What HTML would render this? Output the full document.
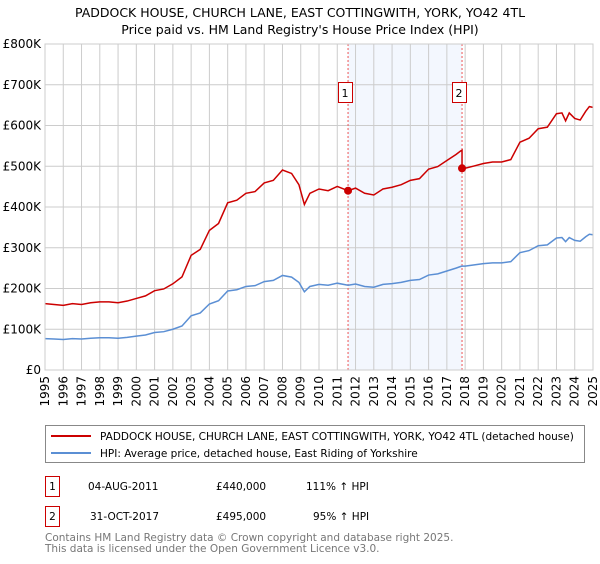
<!DOCTYPE html>
<html><head><meta charset="utf-8"><style>
body{margin:0;background:#fff;font-family:"DejaVu Sans","Liberation Sans",sans-serif;}
svg text{font-family:"DejaVu Sans","Liberation Sans",sans-serif;}
</style></head><body>
<svg id="c" width="600" height="560" xmlns="http://www.w3.org/2000/svg">
<text x="300" y="17" text-anchor="middle" font-size="12.5" fill="#000">PADDOCK HOUSE, CHURCH LANE, EAST COTTINGWITH, YORK, YO42 4TL</text>
<text x="300" y="34" text-anchor="middle" font-size="12.5" fill="#000">Price paid vs. HM Land Registry's House Price Index (HPI)</text>
<g id="plot"></g>
<g>
<rect x="45.5" y="425.5" width="539" height="37" fill="#fff" stroke="#888"/>
<line x1="51" y1="436" x2="91" y2="436" stroke="#cc0000" stroke-width="2"/>
<text x="100" y="440" font-size="10.5">PADDOCK HOUSE, CHURCH LANE, EAST COTTINGWITH, YORK, YO42 4TL (detached house)</text>
<line x1="51" y1="453" x2="91" y2="453" stroke="#5b8fd4" stroke-width="2"/>
<text x="100" y="457" font-size="10.5">HPI: Average price, detached house, East Riding of Yorkshire</text>
</g>
<g font-size="10.5">
<rect x="45.5" y="476.5" width="14" height="20" fill="#fff" stroke="#cc0000"/>
<text x="52.5" y="490" text-anchor="middle">1</text>
<text x="88" y="490">04-AUG-2011</text>
<text x="216" y="490">£440,000</text>
<text x="306" y="490">111% ↑ HPI</text>
<rect x="45.5" y="506.5" width="14" height="20" fill="#fff" stroke="#cc0000"/>
<text x="52.5" y="520" text-anchor="middle">2</text>
<text x="90" y="520">31-OCT-2017</text>
<text x="216" y="520">£495,000</text>
<text x="313" y="520">95% ↑ HPI</text>
</g>
<text x="45" y="541" font-size="10.5" fill="#777">Contains HM Land Registry data © Crown copyright and database right 2025.</text>
<text x="45" y="552" font-size="10.5" fill="#777">This data is licensed under the Open Government Licence v3.0.</text>
</svg>
<script>
const hpiYears=[1995,1995.5,1996,1996.5,1997,1997.5,1998,1998.5,1999,1999.5,2000,2000.5,2001,2001.5,2002,2002.5,2003,2003.5,2004,2004.5,2005,2005.5,2006,2006.5,2007,2007.5,2008,2008.5,2008.9,2009.2,2009.5,2010,2010.5,2011,2011.59,2012,2012.5,2013,2013.5,2014,2014.5,2015,2015.5,2016,2016.5,2017,2017.5,2017.75,2017.83,2018,2018.5,2019,2019.5,2020,2020.5,2021,2021.5,2022,2022.5,2023,2023.3,2023.5,2023.7,2024,2024.3,2024.6,2024.8,2025];
const hpiValues=[77,76,75,77,76,78,79,79,78,80,83,86,92,94,100,108,133,140,162,170,194,197,205,207,217,220,232,228,215,192,205,210,208,213,208,211,205,203,210,212,215,220,222,233,236,243,250,254,255,255,258,261,263,263,266,288,293,305,307,324,325,315,325,318,316,327,333,332];
const saleYears=[2011.59,2017.83];
const salePrices=[440,495];
const yTicks=[0,100,200,300,400,500,600,700,800];
const yTickLabels=["£0","£100K","£200K","£300K","£400K","£500K","£600K","£700K","£800K"];
const xTicks=[1995,1996,1997,1998,1999,2000,2001,2002,2003,2004,2005,2006,2007,2008,2009,2010,2011,2012,2013,2014,2015,2016,2017,2018,2019,2020,2021,2022,2023,2024,2025];

const L=45,R=593,T=44,B=370;
const X=y=>L+(y-1995)/30*(R-L);
const Y=v=>B-v/800*(B-T);
const NS="http://www.w3.org/2000/svg";
const g=document.getElementById('plot');
function mk(t,a){const e=document.createElementNS(NS,t);for(const k in a)e.setAttribute(k,a[k]);g.appendChild(e);return e;}
function hpiAt(y){for(let i=1;i<hpiYears.length;i++){if(y<=hpiYears[i]){const t=(y-hpiYears[i-1])/(hpiYears[i]-hpiYears[i-1]);return hpiValues[i-1]+t*(hpiValues[i]-hpiValues[i-1]);}}return hpiValues[hpiValues.length-1];}
let sh=mk('rect',{x:X(saleYears[0]),y:T,width:X(saleYears[1])-X(saleYears[0]),height:B-T,fill:'#eef3fd',opacity:0.7});


yTicks.forEach((v,i)=>{
 const l=mk('line',{x1:L,x2:R,y1:Y(v),y2:Y(v),stroke:'#ccc','stroke-width':1});
 
 
 const t=mk('text',{x:L-4,y:Y(v)+4,'text-anchor':'end','font-size':12});
 t.textContent=yTickLabels[i];
 
 
});
xTicks.forEach(yr=>{
 const l=mk('line',{x1:X(yr),x2:X(yr),y1:T,y2:B,stroke:'#ccc','stroke-width':1});
 
 
 const t=mk('text',{x:0,y:0,'text-anchor':'end','font-size':12,transform:`translate(${X(yr)+4},${B+6}) rotate(-90)`});
 t.textContent=yr;
 
 
});
saleYears.forEach((sy,i)=>{
 const l=mk('line',{x1:X(sy),x2:X(sy),y1:T,y2:B,stroke:'#e55','stroke-width':1,'stroke-dasharray':'2,2'});
 
 
 const r=mk('rect',{x:Math.round(X(sy))-10+0.5,y:82.5,width:14,height:20,fill:'#fff',stroke:'#cc0000'});
 
 
 const t=mk('text',{x:Math.round(X(sy))-3,y:97,'text-anchor':'middle','font-size':11});
 t.textContent=String(i+1);
 
 
});
const hp=mk('polyline',{points:hpiYears.map((y,i)=>X(y)+','+Y(hpiValues[i])).join(' '),fill:'none',stroke:'#5b8fd4','stroke-width':1.5});


const r1=salePrices[0]/hpiAt(saleYears[0]),r2=salePrices[1]/hpiAt(saleYears[1]);
const pts=[];
hpiYears.forEach((y,i)=>{
 if(y<saleYears[1]) pts.push(X(y)+','+Y(hpiValues[i]*r1));
 else{ if(y===saleYears[1]){pts.push(X(y)+','+Y(hpiValues[i]*r1));} pts.push(X(y)+','+Y(hpiValues[i]*r2)); }
});
const pl=mk('polyline',{points:pts.join(' '),fill:'none',stroke:'#cc0000','stroke-width':1.5});


saleYears.forEach((sy,i)=>{
 const c=mk('circle',{cx:X(sy),cy:Y(salePrices[i]),r:4,fill:'#cc0000'});
 
 
});
const ax=mk('rect',{x:L,y:T,width:R-L,height:B-T,fill:'none',stroke:'#ccc'});


</script>
</body></html>
